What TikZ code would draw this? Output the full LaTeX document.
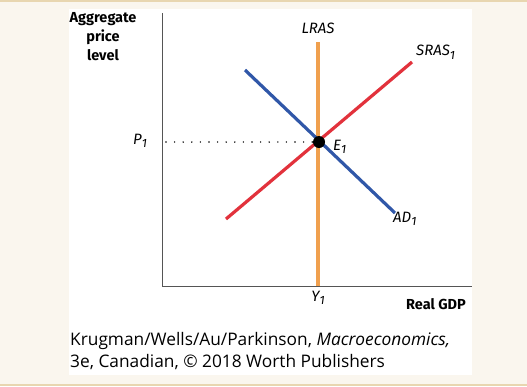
\documentclass[tikz,border=0pt]{standalone}
\usepackage{fontspec}
\usepackage{xcolor}
\setsansfont{Fira Sans}
\newfontfamily\capfont{Open Sans}
\definecolor{cream}{HTML}{FAF6EE}
\definecolor{rim}{HTML}{E8D6B0}
\definecolor{lrasorange}{HTML}{F0A04E}
\definecolor{srasred}{HTML}{E2323C}
\definecolor{adblue}{HTML}{3057A8}
\definecolor{axisgray}{HTML}{555555}
\newcommand{\lowsub}[1]{\raisebox{-0.45ex}{\fontsize{12}{12}\selectfont #1}}
\tikzset{
  lbl/.style={font=\sffamily\itshape\fontsize{15}{17}\selectfont, inner sep=0pt},
  axislbl/.style={font=\sffamily\bfseries\fontsize{14.5}{19}\selectfont, inner sep=0pt, align=center},
  curve/.style={line width=3.2pt}
}
\begin{document}
\begin{tikzpicture}[x=1pt,y=-1pt,>=latex]
  \useasboundingbox (0,0) rectangle (527,386);
  \fill[cream] (0,0) rectangle (527,386);
  \draw[rim, line width=1.5pt] (0,0.8) -- (527,0.8) (0,385.2) -- (527,385.2);
  \fill[white] (69,9) rectangle (472,375);
% axes
  \coordinate (O) at (162,286);
  \coordinate (ytop) at (162,13);
  \coordinate (xend) at (472,286);
  \draw[axisgray, line width=1pt] (ytop) -- (O) -- (xend);
% curves
  \coordinate (E) at (319,142);
  \coordinate (lrastop) at (318,42);
  \coordinate (lrasbot) at (318,286);
  \coordinate (srasbot) at (226,219);
  \coordinate (srastop) at (412,62);
  \coordinate (adtop) at (245,70);
  \coordinate (adbot) at (395,213);
  \coordinate (pone) at (166,142);
  \draw[black, line width=1.6pt, line cap=round, dash pattern=on 0pt off 8.6pt] (pone) -- (E);
  \draw[curve, lrasorange] (lrastop) -- (lrasbot);
  \draw[curve, srasred] (srasbot) -- (srastop);
  \draw[curve, adblue] (adtop) -- (adbot);
  \node[circle, fill=black, inner sep=0pt, minimum size=12pt] (eq) at (E) {};
% labels
  \node[axislbl] (ylab) at (103,37) {Aggregate\\price\\level};
  \node[axislbl] (xlab) at (436,304) {Real GDP};
  \node[lbl] (lras) at (318,28) {LRAS};
  \node[lbl, anchor=west] (sras) at (416,52) {SRAS\lowsub{1}};
  \node[lbl, anchor=west] (ad) at (393,219) {AD\lowsub{1}};
  \node[lbl, anchor=west] (eone) at (333,147) {E\lowsub{1}};
  \node[lbl] (plab) at (140,141) {P\lowsub{1}};
  \node[lbl] (ylabone) at (318,298) {Y\lowsub{1}};
  \node[font=\capfont\fontsize{17.3}{22.5}\selectfont, anchor=north west, align=left, inner sep=0pt] (cap) at (70,332)
    {Krugman/Wells/Au/Parkinson, \textit{Macroeconomics,}\\3e, Canadian, \textcopyright{} 2018 Worth Publishers};
\end{tikzpicture}
\end{document}
